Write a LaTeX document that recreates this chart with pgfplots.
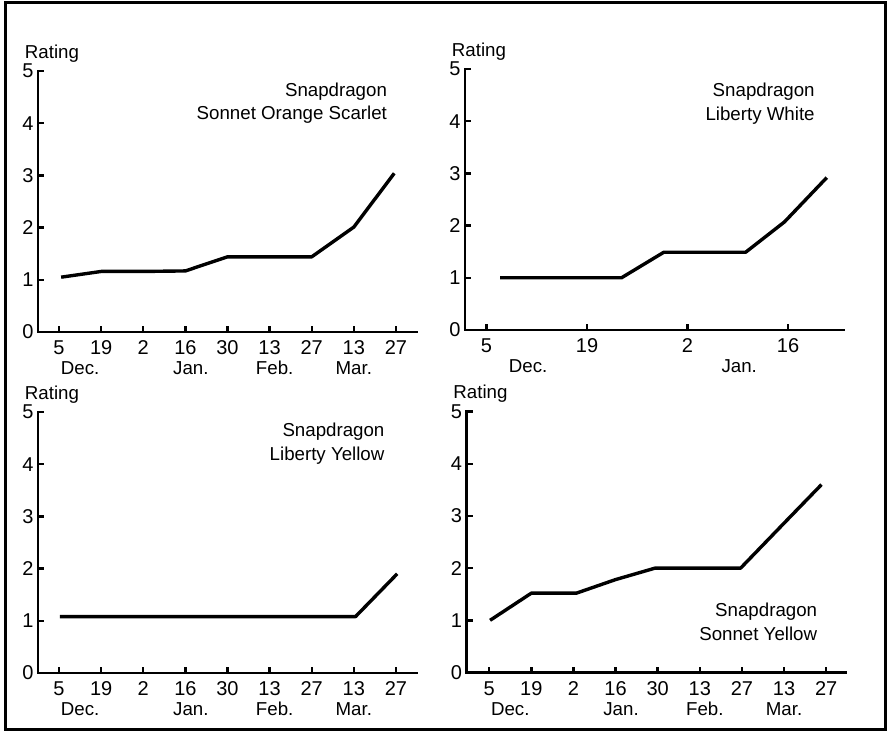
\documentclass[border=0pt]{standalone}
\usepackage{fontspec}
\setmainfont{Liberation Sans}
\usepackage{pgfplots}
\pgfplotsset{compat=1.18}
\pgfplotsset{
  panel/.style={
    scale only axis, width=379pt, height=261pt,
    axis lines*=left,
    axis line style={-, line width=2.8pt, line cap=rect},
    every tick/.style={black, line width=2.4pt},
    major tick length=6pt, tick align=inside,
    ymin=0, ymax=5, ytick={0,1,2,3,4,5},
    clip=false,
    font=\fontsize{18.7}{20}\selectfont,
    tick label style={font=\fontsize{20}{20}\selectfont},
    /pgf/number format/assume math mode=true,
    yticklabel style={xshift=-1pt},
    xticklabel style={anchor=base, yshift=-22.5pt, inner sep=0pt},
  },
  data/.style={black, line width=3.4pt, line join=round, mark=none},
}
\newcommand{\ratinglabel}{\node[anchor=base, font=\fontsize{18.7}{20}\selectfont] at (rel axis cs:0,1) [xshift=14pt, yshift=13pt] {Rating};}
\newcommand{\monthlabel}[2]{\node[anchor=base, inner sep=0pt, font=\fontsize{18.7}{20}\selectfont] at (axis cs:#1,0) [yshift=-42.5pt] {#2};}
\begin{document}
\begin{tikzpicture}[x=1pt,y=1pt]
\useasboundingbox (0,0) rectangle (889,737);
\draw[line width=3pt] (5,734) rectangle (885,8);

% Panel 1: Sonnet Orange Scarlet
\begin{axis}[panel, at={(38pt,405pt)}, anchor=south west,
  xmin=-0.5, xmax=8.5, xtick={0,...,8},
  xticklabels={5,19,2,16,30,13,27,13,27}]
\addplot[data] coordinates {(0.05,1.05) (1,1.16) (2,1.16) (3,1.17) (4,1.44) (5,1.44) (6,1.44) (7,2.01) (7.96,3.04)};
\ratinglabel
\monthlabel{0.5}{Dec.}\monthlabel{3.13}{Jan.}\monthlabel{5.12}{Feb.}\monthlabel{7.0}{Mar.}
\node[anchor=base east] at (axis cs:7.87,4.51) {Snapdragon};
\node[anchor=base east] at (axis cs:7.87,4.07) {Sonnet Orange Scarlet};
\end{axis}

% Panel 2: Liberty White
\begin{axis}[panel, at={(465pt,407pt)}, anchor=south west,
  xmin=-3, xmax=49.8, xtick={0,14,28,42},
  xticklabels={5,19,2,16}]
\addplot[data] coordinates {(1.9,1.0) (18.8,1.0) (24.7,1.49) (36.1,1.49) (41.5,2.07) (47.4,2.92)};
\ratinglabel
\monthlabel{5.8}{Dec.}\monthlabel{35.2}{Jan.}
\node[anchor=base east] at (axis cs:46.2,4.47) {Snapdragon};
\node[anchor=base east] at (axis cs:46.2,4.02) {Liberty White};
\end{axis}

% Panel 3: Liberty Yellow
\begin{axis}[panel, at={(38pt,64pt)}, anchor=south west,
  xmin=-0.5, xmax=8.5, xtick={0,...,8},
  xticklabels={5,19,2,16,30,13,27,13,27}]
\addplot[data] coordinates {(0.02,1.08) (1,1.08) (2,1.08) (3,1.08) (4,1.08) (5,1.08) (6,1.08) (7.04,1.08) (8.03,1.9)};
\ratinglabel
\monthlabel{0.5}{Dec.}\monthlabel{3.13}{Jan.}\monthlabel{5.12}{Feb.}\monthlabel{7.0}{Mar.}
\node[anchor=base east] at (axis cs:7.81,4.54) {Snapdragon};
\node[anchor=base east] at (axis cs:7.81,4.08) {Liberty Yellow};
\end{axis}

% Panel 4: Sonnet Yellow
\begin{axis}[panel, at={(466.5pt,64.5pt)}, anchor=south west,
  xmin=-0.54, xmax=8.46, xtick={0,...,8},
  xticklabels={5,19,2,16,30,13,27,13,27}]
\addplot[data] coordinates {(0.02,1.0) (1,1.52) (2.07,1.52) (3,1.78) (3.94,2.0) (5,2.0) (5.97,2.0) (7,2.86) (7.89,3.6)};
\ratinglabel
\monthlabel{0.5}{Dec.}\monthlabel{3.13}{Jan.}\monthlabel{5.12}{Feb.}\monthlabel{7.0}{Mar.}
\node[anchor=base east] at (axis cs:7.87,1.08) {Snapdragon};
\node[anchor=base east] at (axis cs:7.87,0.62) {Sonnet Yellow};
\end{axis}
\end{tikzpicture}
\end{document}
